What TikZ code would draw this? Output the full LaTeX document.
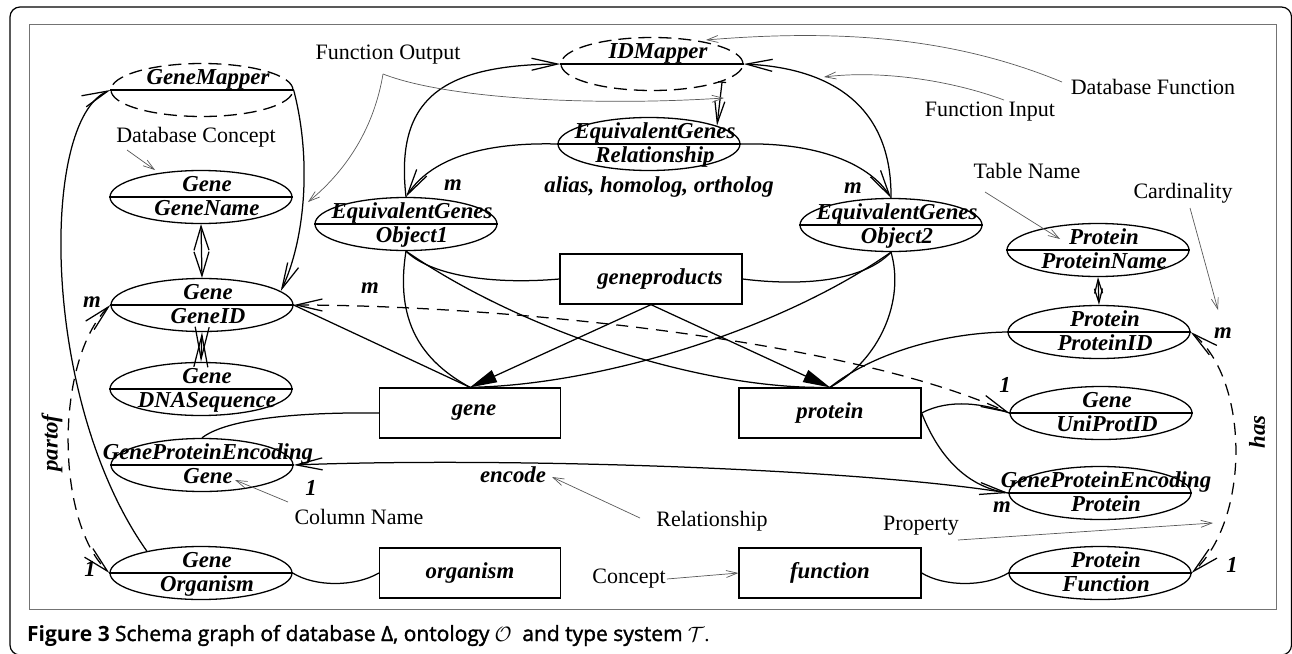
\documentclass[tikz,border=0pt]{standalone}
\usepackage{fontspec}
\setmainfont{Liberation Serif}
\newfontfamily\capfont{Open Sans}
\newfontfamily\capsemi{Open Sans}[FakeBold=1.6]
\usetikzlibrary{arrows.meta,shapes.geometric,calc}

\newcommand\schemafont{\fontsize{22.8}{25}\selectfont\bfseries\itshape}
\newcommand\calloutfont{\fontsize{22}{26}\selectfont}

\tikzset{
  ell/.style={ellipse, draw, line width=1.3pt, minimum width=182pt, minimum height=53pt, inner sep=0pt},
  dashell/.style={dash pattern=on 13pt off 7pt},
  mid/.style={line width=1.2pt},
  box/.style={rectangle, draw, line width=1.3pt, minimum width=181pt, minimum height=50pt, inner sep=0pt, font=\schemafont},
  ntxt/.style={anchor=base, inner sep=0pt, font=\schemafont},
  card/.style={inner sep=0pt, font=\schemafont},
  note/.style={inner sep=1pt, font=\calloutfont},
  conn/.style={line width=1.25pt},
  dsh/.style={dash pattern=on 12pt off 8pt},
  ann/.style={draw=black!65, line width=0.7pt, -{Straight Barb[length=11pt,width=7pt]}},
  ftri/.style={-{Triangle[length=27pt,width=13pt]}},
}

% ellipse with a dividing line: [style] name x y upper lower
\newcommand{\ellnode}[6][]{%
  \node[ell,#1] (#2) at (#3,#4) {};
  \draw[mid] (#2.west) -- (#2.east);
  \node[ntxt] at ($(#2.center)+(6,-6)$) {#5};
  \node[ntxt] at ($(#2.center)+(6,18)$) {#6};
}

\begin{document}
\begin{tikzpicture}[x=1pt, y=-1pt, >={Straight Barb[length=26pt,width=12pt]}]
\useasboundingbox (0,0) rectangle (1292,653);

% frames
\draw[line width=1.2pt, rounded corners=10pt] (10,7) rectangle (1291.5,655);
\draw[black!55, line width=1pt] (29,24) rectangle (1276,609);

% left column
\ellnode[dashell]{gm}{202}{90}{GeneMapper}{}
\ellnode{gname}{201}{197}{Gene}{GeneName}
\ellnode{gid}{202}{305}{Gene}{GeneID}
\ellnode{gdna}{201}{389}{Gene}{DNASequence}
\ellnode{gpeg}{202}{465}{GeneProteinEncoding}{Gene}
\ellnode{gorg}{201}{573}{Gene}{Organism}

% centre
\ellnode[dashell]{idm}{652}{64}{IDMapper}{}
\ellnode{rel}{649}{144}{EquivalentGenes}{Relationship}
\ellnode{ob1}{406}{224}{EquivalentGenes}{Object1}
\ellnode{ob2}{891}{225}{EquivalentGenes}{Object2}
\node[card] (alias) at (659,187) {alias, homolog, ortholog};

% right column
\ellnode{pname}{1098}{250}{Protein}{ProteinName}
\ellnode{pid}{1099}{332}{Protein}{ProteinID}
\ellnode{uni}{1101}{413}{Gene}{UniProtID}
\ellnode{gpep}{1100}{493}{GeneProteinEncoding}{Protein}
\ellnode{pfun}{1100}{573}{Protein}{Function}

% concept boxes
\node[box, minimum width=182pt] (gp) at (651,279) {\hspace{18pt}geneproducts};
\node[box] (gene) at (470,413) {\hspace{8pt}gene};
\node[box, minimum width=182pt] (prot) at (830,413) {protein};
\node[box] (org) at (470,573) {organism};
\node[box, minimum width=182pt] (func) at (830,573) {function};

% database functions
\draw[conn,->] (gm.east) .. controls (312,160) and (305,240) .. (gid.10);
\draw[conn,->] (gorg.158) .. controls (40,400) and (40,120) .. (gm.west);
\draw[conn,->] (ob1.north) .. controls (395,100) and (440,65) .. (idm.west);
\draw[conn,->] (ob2.north) .. controls (892,105) and (830,68) .. (idm.east);
\draw[conn,{Bar[width=8pt]}-{Straight Barb[length=22pt,width=10pt]}] (idm.-14) -- (rel.15);

% equivalence relationship
\draw[conn,->] (rel.west) .. controls (480,142) and (430,160) .. (ob1.north);
\draw[conn,->] (rel.east) .. controls (820,142) and (870,165) .. (ob2.north);

% object links
\draw[conn] (ob1.south) .. controls (430,275) and (490,285) .. (gp.west);
\draw[conn] (ob1.south) .. controls (520,330) and (700,390) .. (prot.north);
\draw[conn] (ob1.south) .. controls (395,320) and (420,360) .. (gene.north);
\draw[conn] (ob2.south) .. controls (860,285) and (790,285) .. (gp.east);
\draw[conn] (ob2.south) .. controls (780,330) and (600,385) .. (gene.north);
\draw[conn] (ob2.south) .. controls (905,300) and (880,360) .. (prot.north);

% subsumption
\draw[conn,ftri] (gp.south) -- (gene.north);
\draw[conn,ftri] (gp.south) -- (prot.north);

% attribute links
\draw[conn] (gid.east) -- (gene.north);
\draw[conn] (pid.west) .. controls (940,333) and (870,355) .. (prot.north);
\draw[conn] (gene.west) .. controls (290,412) and (225,420) .. (gpeg.north);
\draw[conn] (prot.east) .. controls (950,398) and (985,404) .. (uni.west);
\draw[conn] (prot.east) .. controls (940,460) and (970,488) .. (gpep.west);
\draw[conn] (gorg.east) .. controls (315,587) and (355,587) .. (org.west);
\draw[conn] (func.east) .. controls (945,587) and (985,587) .. (pfun.west);

% keys
\draw[conn,{Straight Barb[length=24pt,width=15pt]}-{Straight Barb[length=24pt,width=15pt]}] (gname.south) -- (gid.north);
\draw[conn,{Straight Barb[length=32pt,width=14pt]}-{Straight Barb[length=32pt,width=14pt]}] (gid.south) -- (gdna.north);
\draw[conn,{Straight Barb[length=14pt,width=8pt]}-{Straight Barb[length=14pt,width=8pt]}] (pname.south) -- (pid.north);

% relationships
\draw[conn,dsh,<->] (gid.west) .. controls (55,360) and (55,520) .. (gorg.west);
\draw[conn,dsh,<->] (gid.east) .. controls (500,305) and (850,340) .. (uni.west);
\draw[conn,<->] (gpeg.east) .. controls (500,457) and (850,468) .. (gpep.west);
\draw[conn,dsh,<->] (pid.east) .. controls (1250,380) and (1250,520) .. (pfun.east);

% relationship labels and cardinalities
\node[card, rotate=90] (partof) at (52,443) {partof};
\node[card, rotate=90] (has) at (1257,432) {has};
\node[card] (encode) at (513,475) {encode};
\node[card] (c1) at (92,302) {m};
\node[card] (c2) at (370,288) {m};
\node[card] (c3) at (453,185) {m};
\node[card] (c4) at (853,188) {m};
\node[card] (c5) at (1223,333) {m};
\node[card] (c6) at (1005,385) {1};
\node[card] (c7) at (1002,507) {m};
\node[card] (c8) at (1232,565) {1};
\node[card] (c9) at (311,488) {1};
\node[card] (c10) at (90,569) {1};

% callouts
\node[note] (lFO) at (388,55) {Function Output};
\node[note] (lDC) at (196,137) {Database Concept};
\node[note] (lDF) at (1153,87) {Database Function};
\node[note] (lFI) at (990,112) {Function Input};
\node[note] (lTN) at (1027,171) {Table Name};
\node[note] (lCa) at (1183,193) {Cardinality};
\node[note] (lCN) at (359,517) {Column Name};
\node[note] (lRe) at (712,521) {Relationship};
\node[note] (lCo) at (629,579) {Concept};
\node[note] (lPr) at (921,526) {Property};

\coordinate (foS) at (383,74);
\coordinate (foT1) at (308,202);
\coordinate (foT2) at (724,98);
\coordinate (dfS) at (1062,82);
\coordinate (dfT) at (706,40);
\coordinate (fiS) at (1004,100);
\coordinate (fiT) at (824,77);
\coordinate (dcS) at (127,150);
\coordinate (dcT) at (155,170);
\coordinate (tnS) at (985,192);
\coordinate (tnT) at (1060,239);
\coordinate (caS) at (1190,208);
\coordinate (caT) at (1218,310);
\coordinate (cnS) at (288,502);
\coordinate (cnT) at (235,480);
\coordinate (reS) at (640,518);
\coordinate (reT) at (552,477);
\coordinate (prS) at (958,540);
\coordinate (prT) at (1213,523);

\draw[ann] (foS) .. controls (372,140) and (335,180) .. (foT1);
\draw[ann] (foS) .. controls (450,100) and (600,106) .. (foT2);
\draw[ann] (dfS) .. controls (960,40) and (850,28) .. (dfT);
\draw[ann] (fiS) .. controls (950,80) and (880,70) .. (fiT);
\draw[ann] (dcS) -- (dcT);
\draw[ann] (tnS) -- (tnT);
\draw[ann] (caS) -- (caT);
\draw[ann] (cnS) -- (cnT);
\draw[ann] (reS) -- (reT);
\draw[ann] (lCo.east) -- (func.west);
\draw[ann] (prS) -- (prT);

% caption
\node[anchor=base west, inner sep=0pt] (cap) at (27,641)
  {\fontsize{21}{24}\selectfont{\capfont\bfseries Figure 3} {\capsemi Schema graph of database Δ, ontology} $\mathcal{O}$\ \ {\capsemi and type system} $\mathcal{T}$.};
\end{tikzpicture}
\end{document}
